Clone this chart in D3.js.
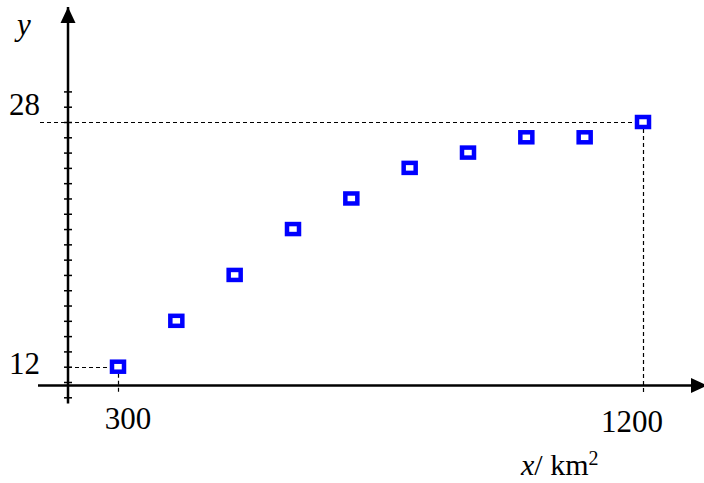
<!DOCTYPE html>
<html>
<head>
<meta charset="utf-8">
<script src="https://cdn.jsdelivr.net/npm/d3@7"></script>
<style>
  html, body { margin: 0; padding: 0; background: #fff; }
  svg { display: block; font-family: "Liberation Serif", "Times New Roman", serif; }
</style>
</head>
<body>
<div class="chart"></div>
<script>
// area (km^2) vs y
const areas = [300, 400, 500, 600, 700, 800, 900, 1000, 1100, 1200];
const yValues = [12, 15, 18, 21, 23, 25, 26, 27, 27, 28];
const yTickValues = d3.range(10, 31);
const xLabels = [300, 1200];
const yLabels = [12, 28];

const width = 704;
const height = 483;

// y axis sits at x = 214, x axis at y = 10.77 in data units
const x = d3.scaleLinear().domain([300, 1200]).range([118, 643]);
const y = d3.scaleLinear().domain([12, 28]).range([366.7, 122]);
const axisX = x(214.3);
const axisY = y(10.77);

const svg = d3.select('.chart').append('svg')
  .attr('width', width).attr('height', height);

// arrow heads
const defs = svg.append('defs');
defs.append('marker')
  .attr('id', 'arrow')
  .attr('viewBox', '0 0 16 16')
  .attr('refX', 16).attr('refY', 8)
  .attr('markerWidth', 16).attr('markerHeight', 16)
  .attr('markerUnits', 'userSpaceOnUse')
  .attr('orient', 'auto')
  .append('path')
  .attr('d', 'M0,0.5 L16,8 L0,15.5 Z')
  .attr('fill', '#000');

// dashed guide lines for first and last point
const first = {x: areas[0], y: yValues[0]};
const last = {x: areas[areas.length - 1], y: yValues[yValues.length - 1]};
const snap = v => Math.round(v) + 0.5;
const guides = svg.append('g')
  .attr('stroke', '#000')
  .attr('stroke-width', 1.2)
  .attr('stroke-dasharray', '4,3');
guides.append('line')
  .attr('x1', axisX).attr('x2', x(first.x))
  .attr('y1', snap(y(first.y))).attr('y2', snap(y(first.y)));
guides.append('line')
  .attr('x1', snap(x(first.x))).attr('x2', snap(x(first.x)))
  .attr('y1', y(first.y)).attr('y2', axisY + 7);
guides.append('line')
  .attr('x1', 40).attr('x2', x(last.x))
  .attr('y1', snap(y(last.y))).attr('y2', snap(y(last.y)));
guides.append('line')
  .attr('x1', snap(x(last.x))).attr('x2', snap(x(last.x)))
  .attr('y1', y(last.y)).attr('y2', axisY + 7);

// x axis
svg.append('line')
  .attr('x1', 38).attr('x2', 707)
  .attr('y1', axisY).attr('y2', axisY)
  .attr('stroke', '#000').attr('stroke-width', 2.5)
  .attr('marker-end', 'url(#arrow)');

// y axis with small ticks
const yAxis = d3.axisLeft(y)
  .tickValues(yTickValues)
  .tickFormat('')
  .tickSizeOuter(0);
const gy = svg.append('g')
  .attr('transform', `translate(${axisX},0)`)
  .call(yAxis);
gy.select('.domain').remove();
gy.selectAll('.tick line')
  .attr('x1', -4).attr('x2', 4)
  .attr('stroke-width', 1.5);

svg.append('line')
  .attr('x1', axisX).attr('x2', axisX)
  .attr('y1', y(9.6)).attr('y2', 7)
  .attr('stroke', '#000').attr('stroke-width', 2.5)
  .attr('marker-end', 'url(#arrow)');

// points
svg.selectAll('.dot').data(areas)
  .enter()
  .append('rect')
  .attr('class', 'dot')
  .attr('x', d => x(d) - 6)
  .attr('y', (d, i) => y(yValues[i]) - 5)
  .attr('width', 12)
  .attr('height', 10)
  .attr('fill', '#fff')
  .attr('stroke', '#0000ff')
  .attr('stroke-width', 4.5);

// labels
svg.selectAll('.ylab').data(yLabels)
  .enter().append('text')
  .attr('class', 'ylab')
  .attr('x', 9)
  .attr('y', d => d === 28 ? y(d) - 7 : y(d) + 7)
  .attr('font-size', 31)
  .text(d => d);

svg.selectAll('.xlab').data(xLabels)
  .enter().append('text')
  .attr('class', 'xlab')
  .attr('text-anchor', 'middle')
  .attr('x', d => d === 300 ? x(d) + 10 : x(d) - 11)
  .attr('y', d => d === 300 ? 429 : 432)
  .attr('font-size', 31)
  .text(d => d);

svg.append('text')
  .attr('x', 17).attr('y', 35)
  .attr('font-size', 31)
  .attr('font-style', 'italic')
  .text('y');

const xt = svg.append('text')
  .attr('x', 521).attr('y', 475)
  .attr('font-size', 30);
xt.append('tspan').attr('font-style', 'italic').text('x');
xt.append('tspan').text('/ km');
xt.append('tspan').attr('font-size', 20).attr('dy', -10).text('2');
</script>
</body>
</html>
